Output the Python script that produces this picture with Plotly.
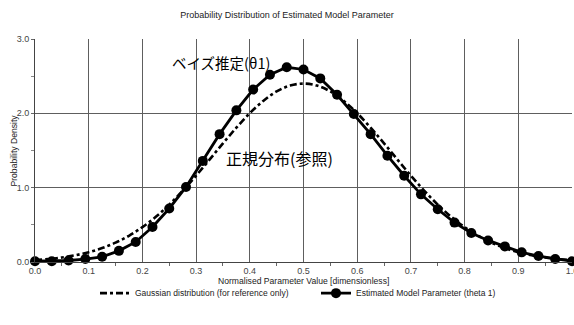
import plotly.graph_objects as go

# Estimated model parameter (theta 1): 33 points, step 1/32
est_x = [i / 32 for i in range(33)]
est_y = [0.01, 0.01, 0.02, 0.04, 0.07, 0.15, 0.27, 0.47, 0.72, 1.01,
         1.36, 1.72, 2.04, 2.32, 2.52, 2.62, 2.59, 2.47, 2.25, 1.99,
         1.72, 1.43, 1.16, 0.91, 0.71, 0.53, 0.39, 0.29, 0.21, 0.13,
         0.08, 0.04, 0.01]

# Gaussian reference curve, step 0.025
gauss_x = [i * 0.025 for i in range(41)]
gauss_y = [0.026, 0.040, 0.061, 0.091, 0.132, 0.187, 0.260, 0.353, 0.469, 0.608,
           0.772, 0.958, 1.161, 1.377, 1.596, 1.807, 2.002, 2.167, 2.294, 2.373,
           2.400,
           2.373, 2.294, 2.167, 2.002, 1.807, 1.596, 1.377, 1.161, 0.958, 0.772,
           0.608, 0.469, 0.353, 0.260, 0.187, 0.132, 0.091, 0.061, 0.040, 0.026]

x_ticks = [i / 10 for i in range(11)]
x_minor = [i / 20 for i in range(1, 20, 2)]
y_ticks = [0.0, 1.0, 2.0, 3.0]
y_minor = [0.5, 1.5, 2.5]

FONT = "Liberation Sans, Arial, sans-serif"
CJK = "Noto Sans CJK JP"

fig = go.Figure()
fig.add_trace(go.Scatter(
    x=gauss_x, y=gauss_y, mode="lines", line_shape="spline",
    name="Gaussian distribution (for reference only)",
    line=dict(color="black", width=2.6, dash="7px,3px,3px,3px"),
    cliponaxis=False,
))
fig.add_trace(go.Scatter(
    x=est_x, y=est_y, mode="lines+markers",
    name="Estimated Model Parameter (theta 1)",
    line=dict(color="black", width=2.8),
    marker=dict(color="black", size=10),
    cliponaxis=False,
))

fig.add_annotation(x=0.346, y=2.68, text="ベイズ推定(θ1)", showarrow=False,
                   font=dict(family=CJK, size=14.5, color="black"))
fig.add_annotation(x=0.456, y=1.40, text="正規分布(参照)", showarrow=False,
                   font=dict(family=CJK, size=16, color="black"))

# axis titles as paper-anchored texts
fig.add_annotation(xref="paper", yref="paper", x=0.5, y=0, yshift=-19,
                   yanchor="middle", xanchor="center", showarrow=False,
                   text="Normalised Parameter Value [dimensionless]",
                   font=dict(family=FONT, size=8.6, color="#222"))
fig.add_annotation(xref="paper", yref="paper", x=0, y=0.5, xshift=-22,
                   xanchor="center", yanchor="middle", textangle=-90,
                   showarrow=False, text="Probability Density",
                   font=dict(family=FONT, size=8.6, color="#222"))

fig.update_layout(
    width=574, height=325,
    margin=dict(l=35, r=2, t=39, b=63, autoexpand=False),
    paper_bgcolor="white", plot_bgcolor="white",
    font=dict(family=FONT, size=9, color="#333"),
    title=dict(text="Probability Distribution of Estimated Model Parameter",
               x=0.5, xanchor="center", y=0.955, yanchor="middle",
               font=dict(family=FONT, size=9, color="#222")),
    showlegend=True,
    legend=dict(orientation="h", x=0.1655, xanchor="left", xref="container",
                y=0.098, yanchor="middle", yref="container",
                font=dict(family=FONT, size=8.5, color="#222"),
                itemwidth=30, entrywidth=176, entrywidthmode="pixels",
                bgcolor="rgba(0,0,0,0)"),
)
fig.update_xaxes(
    range=[0, 1], tickvals=x_ticks, ticktext=[f"{v:.1f}" for v in x_ticks],
    showgrid=True, gridcolor="#5e5e5e", gridwidth=1,
    showline=True, linecolor="#444", linewidth=1, mirror=False,
    ticks="", zeroline=False, automargin=False, ticklabeloverflow="allow",
    minor=dict(tickvals=x_minor, ticks="outside", ticklen=3, tickcolor="#666"),
    tickfont=dict(family=FONT, size=9, color="#444"),
)
fig.update_yaxes(
    range=[0, 3], tickvals=y_ticks, ticktext=[f"{v:.1f}" for v in y_ticks],
    showgrid=True, gridcolor="#5e5e5e", gridwidth=1,
    showline=True, linecolor="#444", linewidth=1,
    ticks="outside", ticklen=3, tickcolor="#666", zeroline=False,
    automargin=False, ticklabeloverflow="allow",
    minor=dict(tickvals=y_minor, ticks="outside", ticklen=3, tickcolor="#888"),
    tickfont=dict(family=FONT, size=9, color="#444"),
)

fig.write_html("out.html", config={"displayModeBar": False},
               post_script="document.body.style.margin='0';")
